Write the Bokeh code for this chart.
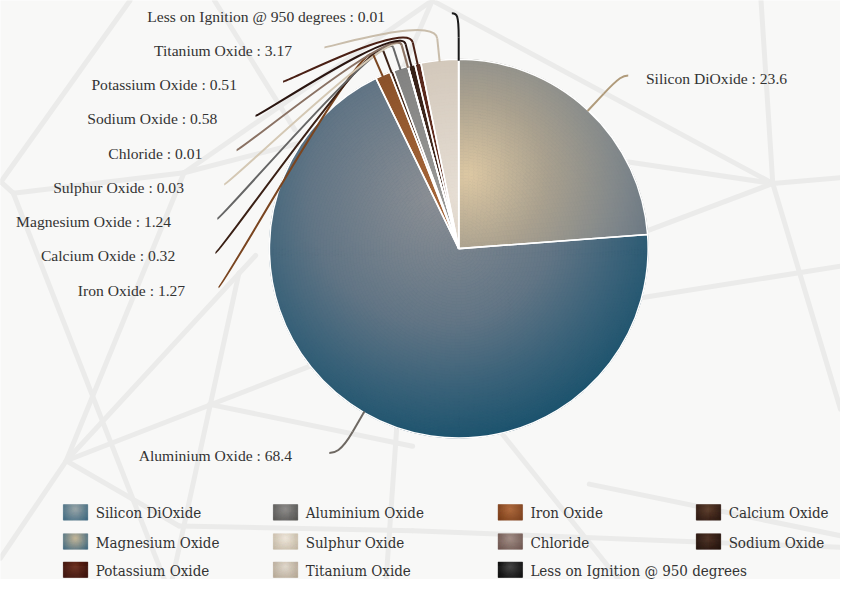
import numpy as np
from bokeh.plotting import figure
from bokeh.models import Range1d, ColumnDataSource
from bokeh.core.properties import value
from bokeh.embed import file_html
from bokeh.resources import INLINE

# ---------------- data ----------------
categories = ["Silicon DiOxide", "Aluminium Oxide", "Iron Oxide", "Calcium Oxide",
              "Magnesium Oxide", "Sulphur Oxide", "Chloride", "Sodium Oxide",
              "Potassium Oxide", "Titanium Oxide", "Less on Ignition @ 950 degrees"]
values = [23.6, 68.4, 1.27, 0.32, 1.24, 0.03, 0.01, 0.58, 0.51, 3.17, 0.01]

# ---------------- styles ----------------
slice_stops = [
    [(0, "#ddc8a3"), (0.35, "#a9a08e"), (0.7, "#7d858a"), (1.0, "#55687a")],
    [(0, "#8d9095"), (0.5, "#627585"), (0.75, "#3a6279"), (1.0, "#16506b")],
    [(0, "#a8683a"), (1.0, "#7a4522")],
    [(0, "#5a3a2a"), (1.0, "#3a2216")],
    [(0, "#9a9a98"), (1.0, "#747473")],
    [(0, "#eee6da"), (1.0, "#d2c6b6")],
    [(0, "#a8948a"), (1.0, "#8a766b")],
    [(0, "#4a3024"), (1.0, "#2a1810")],
    [(0, "#6a3424"), (1.0, "#4a2016")],
    [(0, "#e6ded4"), (1.0, "#c6baab")],
    [(0, "#333333"), (1.0, "#111111")],
]
slice_grad_center = [(477, 180), (445, 200)] + [(467, 200)] * 9
slice_grad_radius = [230, 262] + [230] * 9
connector_colors = ["#b09b7b", "#6e6862", "#7a4520", "#3a2015", "#666666", "#d4c8b4",
                    "#8a7264", "#2a1510", "#4a2015", "#c9bdab", "#1a1a1a"]
legend_inner = ["#9aa6a8", "#8d8b89", "#b06a3c", "#5e3e2c", "#c7b898", "#f0e8dc",
                "#a38e86", "#4e3224", "#6e3222", "#e2dace", "#444444"]
legend_outer = ["#3d6880", "#555452", "#793c18", "#28140d", "#3f6880", "#c4b8a4",
                "#6c544e", "#200f09", "#380f08", "#b5a794", "#080808"]

# ---------------- layout (reference pixel space 856 x 595) ----------------
W, H = 856, 595
CX, CY, R = 467.0, 255.0, 193.0
LAB_R = 248.0
CONN_OFF = 24.0
left_slot_y = {10: 0, 9: 1, 8: 2, 7: 3, 6: 4, 5: 5, 4: 6, 3: 7, 2: 8}
label_gap = [18, 38, 34, 41, 47, 41, 35, 39, 47, 33, 68]

def Y(y):
    return H - np.asarray(y, dtype=float)

def hex2rgb(h):
    h = h.lstrip("#")
    return np.array([int(h[i:i + 2], 16) for i in (0, 2, 4)], dtype=float)

def grad(stops, t):
    t = min(max(t, 0.0), 1.0)
    for (t0, c0), (t1, c1) in zip(stops[:-1], stops[1:]):
        if t <= t1:
            f = 0 if t1 == t0 else (t - t0) / (t1 - t0)
            c = hex2rgb(c0) * (1 - f) + hex2rgb(c1) * f
            return "#%02x%02x%02x" % tuple(int(round(v)) for v in c)
    return stops[-1][1]

total = float(sum(values))
fr = np.array(values) / total
ends = np.cumsum(fr) * 2 * np.pi
starts = ends - fr * 2 * np.pi
mids = (starts + ends) / 2

p = figure(width=840, height=579, x_range=Range1d(0, W), y_range=Range1d(0, H),
           output_backend="svg", toolbar_location=None, min_border=0,
           x_axis_location=None, y_axis_location=None)
p.grid.visible = False
p.outline_line_color = None
p.background_fill_color = "#f8f8f7"
p.border_fill_color = "#f8f8f7"

# decorative background web
bg = [(132, 0, 0, 187), (0, 186, 13, 198), (13, 198, 187, 177), (13, 198, 167, 595),
      (187, 177, 67, 473), (187, 177, 440, 0), (187, 177, 330, 140), (218, 0, 300, 133),
      (440, 0, 410, 70), (440, 0, 787, 188), (775, 0, 787, 188), (640, 166, 787, 188),
      (787, 188, 856, 182), (787, 188, 650, 240), (787, 188, 856, 420), (650, 306, 856, 273),
      (67, 473, 0, 573), (67, 473, 260, 262), (67, 473, 330, 370), (213, 415, 420, 458),
      (243, 280, 175, 595), (67, 473, 182, 540), (182, 540, 420, 545), (420, 545, 856, 562),
      (600, 497, 856, 550), (404, 436, 393, 595), (507, 440, 630, 595)]
bgx0, bgy0, bgx1, bgy1 = zip(*bg)
p.segment(x0=list(bgx0), y0=list(Y(bgy0)), x1=list(bgx1), y1=list(Y(bgy1)),
          line_color="#ebebea", line_width=5, line_cap="round")

# base wedges
p.wedge(x=CX, y=float(Y(CY)), radius=R, start_angle=list(np.pi / 2 - ends),
        end_angle=list(np.pi / 2 - starts),
        color=[grad(s, 0.6) for s in slice_stops])

# gradient cells
cells = dict(r0=[], r1=[], a0=[], a1=[], c=[])
dr = 3.0
for i in range(len(values)):
    th0, th1 = starts[i], ends[i]
    gx, gy = slice_grad_center[i]
    gr = slice_grad_radius[i]
    r0 = 0.0
    while r0 < R:
        r1 = min(r0 + dr, R)
        rm = (r0 + r1) / 2
        n = max(1, int(np.ceil(rm * (th1 - th0) / 5.0)))
        edges = np.linspace(th0, th1, n + 1)
        for j in range(n):
            tm = (edges[j] + edges[j + 1]) / 2
            px = CX + rm * np.sin(tm)
            py = CY - rm * np.cos(tm)
            d = np.hypot(px - gx, py - gy)
            cells["r0"].append(r0)
            cells["r1"].append(r1)
            cells["a0"].append(np.pi / 2 - edges[j + 1])
            cells["a1"].append(np.pi / 2 - edges[j])
            cells["c"].append(grad(slice_stops[i], d / gr))
        r0 = r1
src = ColumnDataSource(cells)
p.annular_wedge(x=CX, y=float(Y(CY)), inner_radius="r0", outer_radius="r1",
                start_angle="a0", end_angle="a1", fill_color="c", line_color="c",
                line_width=0.6, source=src)

# slice borders
p.wedge(x=CX, y=float(Y(CY)), radius=R, start_angle=list(np.pi / 2 - ends),
        end_angle=list(np.pi / 2 - starts), fill_alpha=0, line_color="white",
        line_width=1.6)

# labels and connectors
lab = dict(x=[], y=[], t=[], align=[])
bz = dict(x0=[], y0=[], x1=[], y1=[], cx0=[], cy0=[], cx1=[], cy1=[], c=[])
sg = dict(x0=[], y0=[], x1=[], y1=[], c=[])
for i, (name, v) in enumerate(zip(categories, values)):
    m = mids[i]
    ux, uy = np.sin(m), -np.cos(m)
    tx, ty = CX + R * ux, CY + R * uy
    bx, by = CX + (R + CONN_OFF) * ux, CY + (R + CONN_OFF) * uy
    c2x, c2y = CX + (R + 2 * CONN_OFF) * ux, CY + (R + 2 * CONN_OFF) * uy
    if i == 0:
        sy, side = 77.0, 1
    elif i == 1:
        sy, side = 465.0, -1
    else:
        sy, side = 13.0 + 35.2 * left_slot_y[i], -1
    sx = CX + side * np.sqrt(max(LAB_R ** 2 - (sy - CY) ** 2, 0))
    if i == 10:
        sx = tx - 7
    bz["x0"].append(sx); bz["y0"].append(float(Y(sy)))
    bz["cx0"].append(sx - side * 5); bz["cy0"].append(float(Y(sy)))
    bz["cx1"].append(c2x); bz["cy1"].append(float(Y(c2y)))
    bz["x1"].append(bx); bz["y1"].append(float(Y(by)))
    bz["c"].append(connector_colors[i])
    sg["x0"].append(bx); sg["y0"].append(float(Y(by)))
    sg["x1"].append(tx); sg["y1"].append(float(Y(ty)))
    sg["c"].append(connector_colors[i])
    lab["x"].append(sx + side * label_gap[i])
    lab["y"].append(float(Y(sy + 3)))
    lab["t"].append(f"{name} : {v:g}")
    lab["align"].append("left" if side > 0 else "right")

p.bezier(x0="x0", y0="y0", x1="x1", y1="y1", cx0="cx0", cy0="cy0", cx1="cx1",
         cy1="cy1", line_color="c", line_width=2, source=ColumnDataSource(bz))
p.segment(x0="x0", y0="y0", x1="x1", y1="y1", line_color="c", line_width=2,
          source=ColumnDataSource(sg))
p.text(x="x", y="y", text="t", text_align="align", text_baseline="middle",
       text_font=value("Liberation Serif"), text_font_size="15.6px", text_color="#333333",
       source=ColumnDataSource(lab))

# legend
col_text_x = [97, 311, 540, 742]
row_y = [526, 556, 585]
mk = dict(l=[], r=[], t=[], b=[], c=[])
lt = dict(x=[], y=[], t=[])
MW, MH, NX, NY = 25.0, 16.0, 25, 16
for i, name in enumerate(categories):
    col, row = i % 4, i // 4
    x0 = col_text_x[col] - 33
    yc = row_y[row]
    for a in range(NX):
        for b in range(NY):
            fx = (a + 0.5) / NX
            fy = (b + 0.5) / NY
            d = np.hypot((fx - 0.5) * MW, (fy - 0.3) * MH) / 16.0
            mk["l"].append(x0 + a * MW / NX); mk["r"].append(x0 + (a + 1) * MW / NX)
            mk["t"].append(float(Y(yc - MH / 2 + b * MH / NY)))
            mk["b"].append(float(Y(yc - MH / 2 + (b + 1) * MH / NY)))
            mk["c"].append(grad([(0, legend_inner[i]), (1, legend_outer[i])], d))
    lt["x"].append(col_text_x[col]); lt["y"].append(float(Y(yc + 1))); lt["t"].append(name)
p.quad(left="l", right="r", top="t", bottom="b", fill_color="c", line_color="c",
       line_width=0.4, source=ColumnDataSource(mk))
p.text(x="x", y="y", text="t", text_align="left", text_baseline="middle",
       text_font=value("DejaVu Serif Condensed"), text_font_size="15px",
       text_color="#333333", source=ColumnDataSource(lt))

open("out.html", "w").write(file_html(p, INLINE))
